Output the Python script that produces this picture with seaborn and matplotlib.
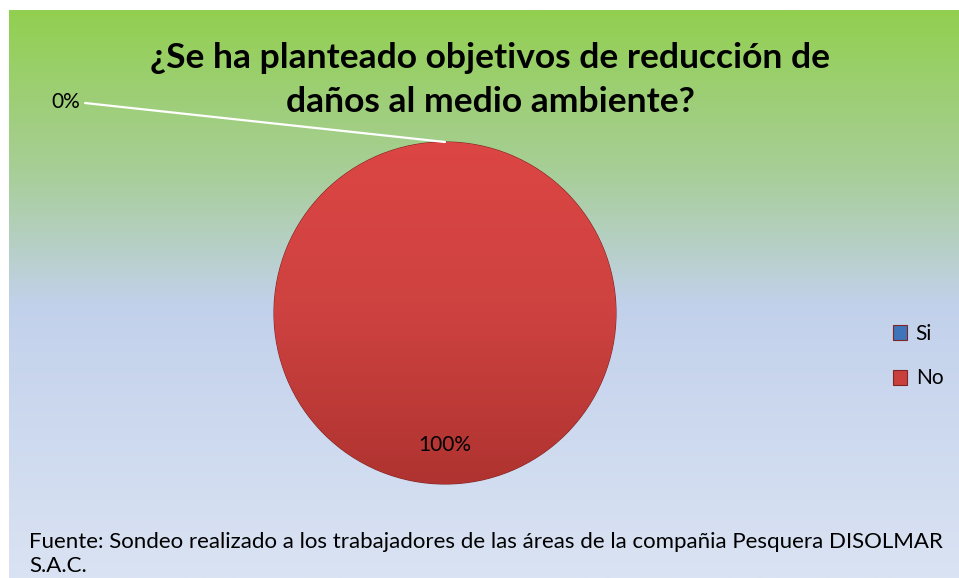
import numpy as np
import matplotlib
matplotlib.use("Agg")
import matplotlib.pyplot as plt
from matplotlib.colors import LinearSegmentedColormap
import seaborn as sns

# data
categorias = ["Si", "No"]
valores = [0, 100]
titulo = "¿Se ha planteado objetivos de reducción de\ndaños al medio ambiente?"
fuente = ("Fuente: Sondeo realizado a los trabajadores de las áreas de la compañia Pesquera DISOLMAR\n"
          "S.A.C.")

sns.set_theme(style="white")
plt.rcParams['font.family'] = ['Lato', 'DejaVu Sans']

colores = ["#3F74BA", "#C83F3D"]

fig = plt.figure(figsize=(9.59, 5.78), dpi=100)
fig.patch.set_facecolor("white")

# background gradient of the chart area
bg = fig.add_axes([9 / 959, 0, 950 / 959, 568 / 578])
grad = LinearSegmentedColormap.from_list(
    "fondo", [(0, "#92D050"), (0.28, "#A7CE96"), (0.52, "#C2D1EB"), (1, "#DAE3F3")])
bg.imshow(np.linspace(0, 1, 256).reshape(-1, 1), aspect="auto", cmap=grad,
          extent=[0, 1, 0, 1], origin="upper")
bg.set_axis_off()

# pie
r_px = 171
cx, cy = 445, 313
ax = fig.add_axes([(cx - r_px) / 959, (578 - cy - r_px) / 578, 2 * r_px / 959, 2 * r_px / 578])
ax.set_facecolor("none")
ax.set_axis_off()
wedges, texts, autotexts = ax.pie(
    valores, colors=colores, startangle=90, counterclock=False,
    autopct="%1.0f%%", pctdistance=0.77,
    wedgeprops=dict(edgecolor="#7E2624", linewidth=0.8),
    textprops=dict(fontsize=15, color="black"))
ax.set_xlim(-1, 1)
ax.set_ylim(-1, 1)
ax.set_aspect("auto")

# soft vertical shading inside the big slice
sombra = LinearSegmentedColormap.from_list("rojo", ["#DC4644", "#CD4240", "#AF3330"])
for w, v in zip(wedges, valores):
    if v > 0:
        im = ax.imshow(np.linspace(0, 1, 256).reshape(-1, 1), cmap=sombra, aspect="auto",
                       extent=[-1, 1, -1, 1], origin="upper", zorder=1.5)
        im.set_clip_path(w)
for t in autotexts:
    t.set_zorder(3)

# 0% label with leader line at top-left
for w, t, v in zip(wedges, autotexts, valores):
    if v == 0:
        t.set_visible(False)
        ang = np.deg2rad(w.theta1)
        ax.plot([np.cos(ang), -2.105], [np.sin(ang), 1.228], color="white", lw=1.6,
                clip_on=False, zorder=2)
        ax.text(-2.135, 1.235, f"{v}%", fontsize=15, ha="right", va="center",
                color="black", clip_on=False)

fig.text(490 / 959, 1 - 80 / 578, titulo, ha="center", va="center",
         fontsize=25.5, fontweight="bold", color="black", linespacing=1.5)

leg = fig.legend(wedges, categorias, loc="center left",
                 bbox_to_anchor=(874 / 959, 1 - 356 / 578), frameon=False,
                 fontsize=15, handlelength=0.7, handleheight=0.7,
                 labelspacing=1.2, handletextpad=0.4)
for txt in leg.get_texts():
    txt.set_color("black")

fig.text(29 / 959, 1 - 554 / 578, fuente, ha="left", va="center",
         fontsize=16, color="black", linespacing=1.3)

plt.savefig("out.png", dpi=100)
